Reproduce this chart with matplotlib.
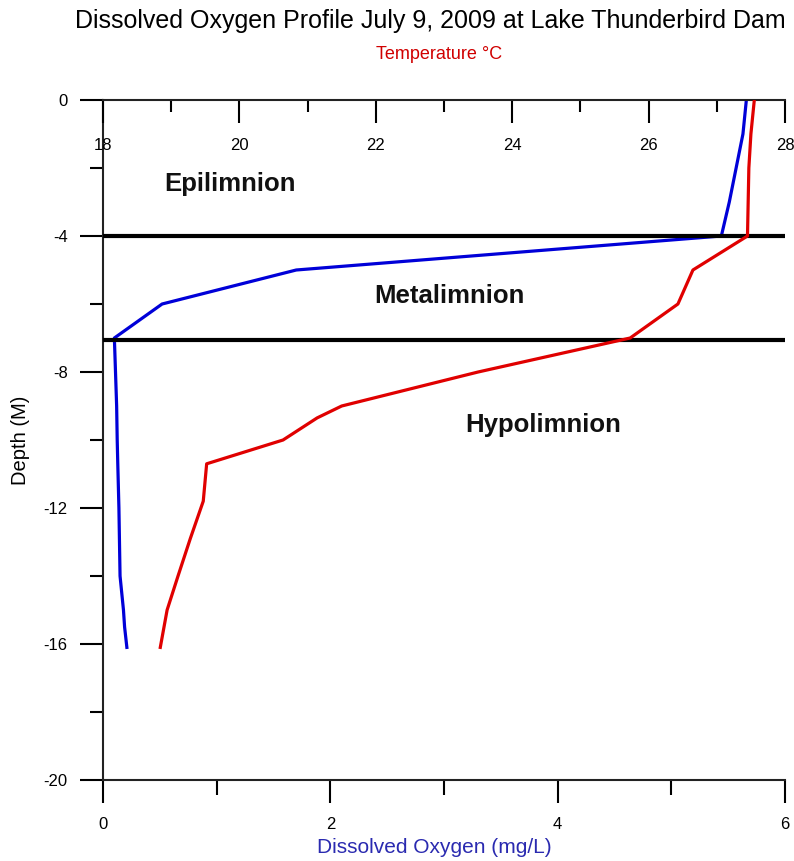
import matplotlib
matplotlib.use("Agg")
import matplotlib.pyplot as plt
from matplotlib.ticker import MultipleLocator

plt.rcParams['font.family'] = ['Liberation Sans', 'DejaVu Sans']
plt.rcParams['axes.unicode_minus'] = False

# ---- data ----
depth_do = [0, -1, -2, -3, -4, -5, -6, -7, -8, -9, -10, -10.7, -12, -13, -14, -15, -15.5, -16.1]
do_vals = [5.66, 5.63, 5.57, 5.51, 5.44, 1.7, 0.52, 0.1, 0.11, 0.12, 0.125, 0.13, 0.14, 0.145, 0.15, 0.18, 0.19, 0.21]

depth_t = [0, -1, -2, -3, -4, -5, -6, -7, -8, -9, -9.35, -10, -10.7, -11.8, -12.9, -14, -15, -16.1]
temp_vals = [27.55, 27.5, 27.47, 27.46, 27.45, 26.65, 26.43, 25.73, 23.5, 21.5, 21.14, 20.64, 19.52, 19.47, 19.28, 19.1, 18.94, 18.84]

layer_bounds = [-4, -7.05]
layer_names = ["Epilimnion", "Metalimnion", "Hypolimnion"]
layer_label_x = [1.12, 3.05, 3.87]
layer_label_y = [-2.47, -5.76, -9.56]

title = "Dissolved Oxygen Profile July 9, 2009 at Lake Thunderbird Dam"

W, H = 794, 861
fig = plt.figure(figsize=(W / 100, H / 100), dpi=100)
ax = fig.add_axes([103 / W, 81 / H, 682 / W, 680 / H])
ax2 = ax.twiny()

ax.set_xlim(0, 6)
ax.set_ylim(-20, 0)
ax2.set_xlim(18, 28)

# lines
ax.plot(do_vals, depth_do, color='#0000d8', lw=2.3, zorder=3)
ax2.plot(temp_vals, depth_t, color='#e00000', lw=2.3, zorder=3)
for b in layer_bounds:
    ax.axhline(b, color='black', lw=3.0, zorder=4)

for name, x, y in zip(layer_names, layer_label_x, layer_label_y):
    ax.text(x, y, name, fontsize=18.5, fontweight='bold', ha='center', va='center',
            color='#111111')

# spines
for a in (ax, ax2):
    a.spines['right'].set_visible(False)
    for s in ('left', 'bottom', 'top'):
        a.spines[s].set_linewidth(1.5)
        a.spines[s].set_color('#222222')
ax.spines['top'].set_visible(False)
ax2.spines['left'].set_visible(False)
ax2.spines['bottom'].set_visible(False)

# ticks
ax.xaxis.set_major_locator(MultipleLocator(2))
ax.xaxis.set_minor_locator(MultipleLocator(1))
ax.yaxis.set_major_locator(MultipleLocator(4))
ax.yaxis.set_minor_locator(MultipleLocator(2))
ax2.xaxis.set_major_locator(MultipleLocator(2))
ax2.xaxis.set_minor_locator(MultipleLocator(1))

ax.tick_params(axis='y', which='major', direction='out', length=16.5, width=1.5, pad=9, labelsize=12)
ax.tick_params(axis='y', which='minor', direction='out', length=9.4, width=1.5)
ax.tick_params(axis='x', which='major', direction='out', length=16.5, width=1.5, pad=10, labelsize=12)
ax.tick_params(axis='x', which='minor', direction='out', length=11, width=1.5)
ax2.tick_params(axis='x', which='major', direction='in', length=16.5, width=1.5, pad=-38, labelsize=12)
ax2.tick_params(axis='x', which='minor', direction='in', length=8.6, width=1.5)

# labels
ax.set_xlabel("Dissolved Oxygen (mg/L)", color='#2a2ab0', fontsize=15)
ax.xaxis.set_label_coords((434 - 103) / 682, -0.086)
ax.set_ylabel("Depth (M)", fontsize=14.5)
ax.yaxis.set_label_coords(-0.107, 0.5)
ax2.set_xlabel("Temperature \u00b0C", color='#d00000', fontsize=13)
ax2.xaxis.set_label_coords((439 - 103) / 682, 1.06)

fig.text(430 / W, 1 - 21 / H, title, fontsize=18, ha='center', va='center')

fig.savefig("out.png", dpi=100)
